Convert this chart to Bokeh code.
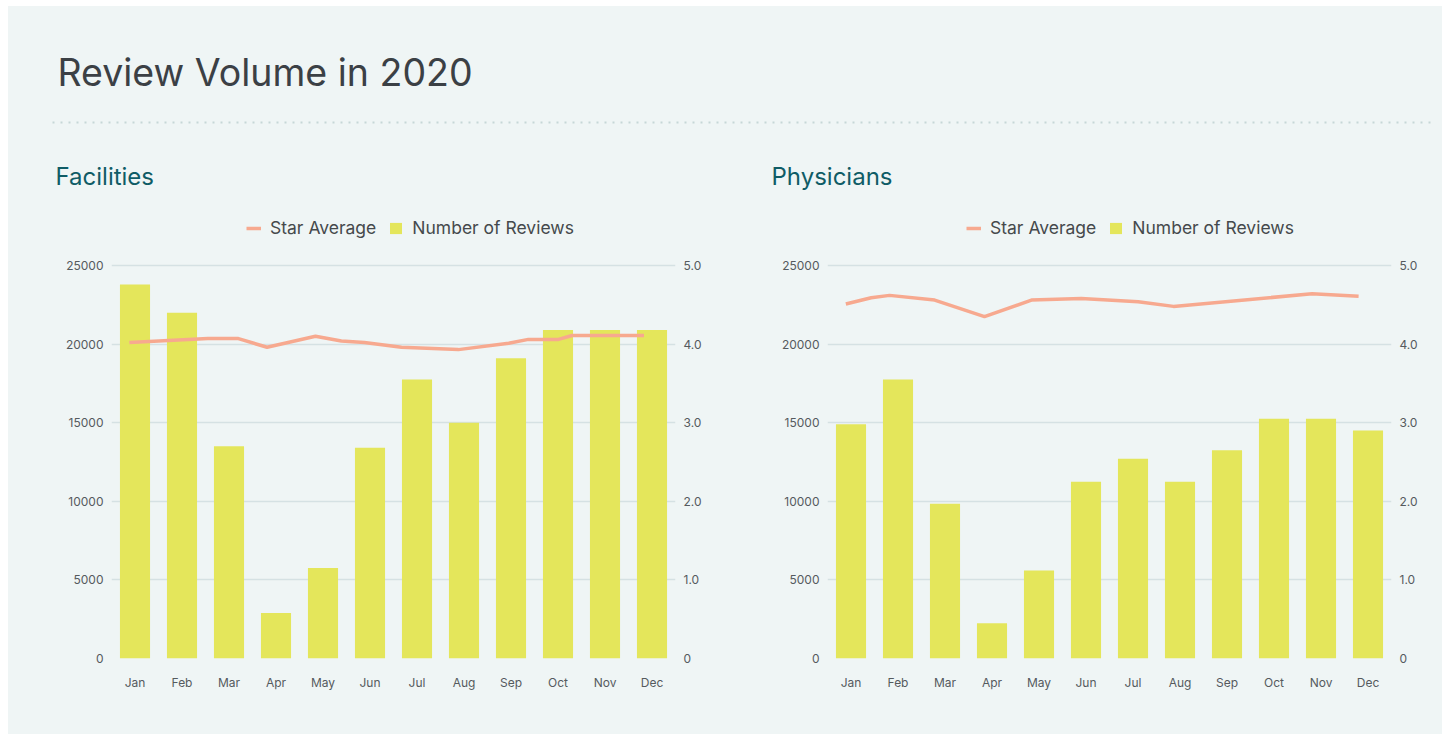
from bokeh.plotting import figure
from bokeh.models import (Range1d, LinearAxis, FixedTicker, Legend, LegendItem, Label,
                          ColumnDataSource, NumeralTickFormatter, Spacer)
from bokeh.layouts import column, row
from bokeh.embed import file_html
from bokeh.resources import INLINE

# ---------------- data ----------------
months = ["Jan", "Feb", "Mar", "Apr", "May", "Jun", "Jul", "Aug", "Sep", "Oct", "Nov", "Dec"]

fac_reviews = [23800, 22000, 13500, 2900, 5750, 13400, 17750, 15000, 19100, 20900, 20900, 20900]
phy_reviews = [14900, 17750, 9850, 2250, 5600, 11250, 12700, 11250, 13250, 15250, 15250, 14500]

# star average series (positions in month units, 0 = Jan)
fac_star_pos = [-0.12, 1.55, 2.2, 2.81, 3.84, 4.39, 4.88, 5.67, 6.88, 7.95, 8.37, 9.01, 9.30, 10.83]
fac_star = [4.02, 4.07, 4.07, 3.96, 4.10, 4.04, 4.02, 3.96, 3.93, 4.01, 4.06, 4.06, 4.11, 4.11]

phy_star_pos = [-0.11, 0.43, 0.82, 1.78, 2.84, 3.84, 4.90, 6.11, 6.86, 9.81, 10.80]
phy_star = [4.51, 4.59, 4.62, 4.56, 4.35, 4.56, 4.58, 4.54, 4.48, 4.64, 4.61]

left_ticks = [0, 5000, 10000, 15000, 20000, 25000]
right_ticks = [0, 1, 2, 3, 4, 5]
right_labels = ["0", "1.0", "2.0", "3.0", "4.0", "5.0"]

title_text = "Review Volume in 2020"
subtitles = ["Facilities", "Physicians"]

# ---------------- style ----------------
BG = "#eff5f5"
YELLOW = "#e4e65b"
SALMON = "#f7a98f"
GRID = "#d5e1e3"
FONT = "Inter"
LABEL_COLOR = "#555a5e"

LEFT_TOP = 28500          # headroom above the 25000 line holds the legend
RIGHT_TOP = 5.0 * LEFT_TOP / 25000


def make_chart(reviews, star_pos, star_vals, left_border, width, legend_x):
    p = figure(width=width, height=526, output_backend="svg", toolbar_location=None,
               x_range=Range1d(-0.5, 11.5), y_range=Range1d(0, LEFT_TOP),
               min_border_left=left_border, min_border_right=width - left_border - 564,
               min_border_top=2, min_border_bottom=76,
               background_fill_color=BG, border_fill_color=BG, outline_line_color=None)
    p.extra_y_ranges = {"star": Range1d(0, RIGHT_TOP)}

    src = ColumnDataSource(dict(x=list(range(len(months))), top=reviews))
    bars = p.vbar(x="x", top="top", width=0.64, source=src,
                  fill_color=YELLOW, line_color=None)
    line = p.line(star_pos, star_vals, y_range_name="star",
                  line_color=SALMON, line_width=3.5)

    # axes
    p.xaxis.ticker = FixedTicker(ticks=list(range(len(months))))
    p.xaxis.major_label_overrides = {i: m for i, m in enumerate(months)}
    p.xaxis.major_label_standoff = 16
    p.yaxis.ticker = FixedTicker(ticks=left_ticks)
    p.yaxis.formatter = NumeralTickFormatter(format="0")
    p.yaxis.major_label_standoff = 8

    raxis = LinearAxis(y_range_name="star", ticker=FixedTicker(ticks=right_ticks),
                       major_label_overrides={t: l for t, l in zip(right_ticks, right_labels)},
                       major_label_standoff=8)
    p.add_layout(raxis, "right")

    for ax in p.axis:
        ax.axis_line_color = None
        ax.major_tick_line_color = None
        ax.minor_tick_line_color = None
        ax.major_tick_out = 0
        ax.major_tick_in = 0
        ax.minor_tick_out = 0
        ax.major_label_text_font = FONT
        ax.major_label_text_font_size = "12px"
        ax.major_label_text_color = LABEL_COLOR

    p.xgrid.visible = False
    p.ygrid.ticker = FixedTicker(ticks=left_ticks)
    p.ygrid.grid_line_color = GRID
    p.ygrid.grid_line_width = 1.5

    legend = Legend(items=[LegendItem(label="Star Average", renderers=[line]),
                           LegendItem(label="Number of Reviews", renderers=[bars])],
                    orientation="horizontal", location=(legend_x, 420),
                    padding=0, margin=0, spacing=12, label_standoff=9,
                    glyph_width=15, glyph_height=14, label_height=20,
                    label_text_font=FONT, label_text_font_size="17.5px",
                    label_text_color="#45494c",
                    background_fill_alpha=0, border_line_color=None)
    p.add_layout(legend, "center")
    return p


# ---------------- header ----------------
h = figure(width=1434, height=202, output_backend="svg", toolbar_location=None,
           x_range=Range1d(0, 1434), y_range=Range1d(202, 0),
           x_axis_type=None, y_axis_type=None, min_border=0,
           background_fill_color=BG, border_fill_color=BG, outline_line_color=None)
h.xgrid.visible = False
h.ygrid.visible = False
h.add_layout(Label(x=49, y=66, text=title_text, text_font=FONT, text_font_size="37.5px",
                   text_color="#3b4045", text_baseline="middle"))
h.segment(x0=[44], y0=[116], x1=[1422], y1=[116], line_color="#c6d7d7",
          line_width=2, line_dash="2 6")
h.add_layout(Label(x=47, y=170, text=subtitles[0], text_font=FONT, text_font_size="24px",
                   text_color="#0f5c66", text_baseline="middle"))
h.add_layout(Label(x=763, y=170, text=subtitles[1], text_font=FONT, text_font_size="24px",
                   text_color="#0f5c66", text_baseline="middle"))

p1 = make_chart(fac_reviews, fac_star_pos, fac_star, 103, 717, 135)
p2 = make_chart(phy_reviews, phy_star_pos, phy_star, 102, 717, 139)

inner = column(h, row(p1, p2, styles={"background-color": BG}),
               styles={"background-color": BG})
layout = column(Spacer(width=10, height=6),
                row(Spacer(width=8, height=10), inner))

open("out.html", "w").write(file_html(layout, INLINE))
